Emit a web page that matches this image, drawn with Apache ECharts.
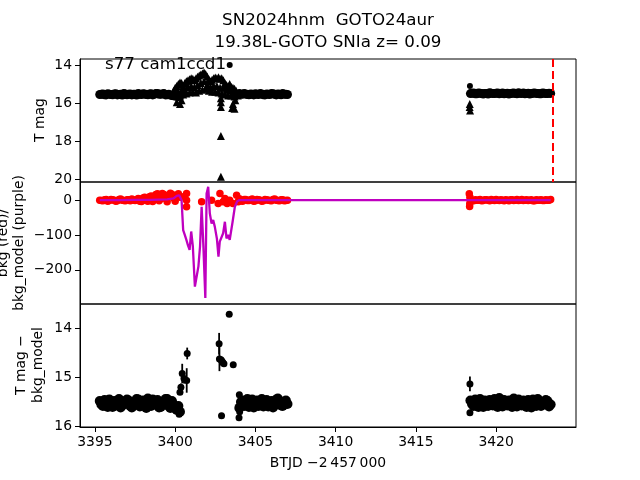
<!DOCTYPE html>
<html><head><meta charset="utf-8">
<script src="https://cdn.jsdelivr.net/npm/echarts@6/dist/echarts.min.js"></script>
<style>html,body{margin:0;padding:0;background:#fff}#c{width:640px;height:480px}</style>
</head><body><div id="c"></div>
<script>
// ---- data ----
const xTicks = [3395, 3400, 3405, 3410, 3415, 3420];
const magTicks = [14, 16, 18, 20];
const bkgTicks = [0, -100, -200];
const corrTicks = [14, 15, 16];
const vline = 3423.52;

const tA = [3395.3,3395.5,3395.7,3395.9,3396.1,3396.3,3396.5,3396.7,3396.9,3397.1,3397.3,3397.5,3397.7,3397.9,3398.1,3398.3,3398.5,3398.7,3398.9,3399.1,3399.3,3399.5,3399.7,3399.9,3400.1,3400.3];
const tA2 = [3395.4,3395.6,3395.8,3396.0,3396.2,3396.4,3396.6,3396.8,3397.0,3397.2,3397.4,3397.6,3397.8,3398.0,3398.2,3398.4,3398.6,3398.8,3399.0,3399.2,3399.4,3399.6,3399.8,3400.0,3400.2];
const tC = [3404.0,3404.2,3404.4,3404.6,3404.8,3405.0,3405.2,3405.4,3405.6,3405.8,3406.0,3406.2,3406.4,3406.6,3406.8,3407.0];
const tC2 = [3404.1,3404.3,3404.5,3404.7,3404.9,3405.1,3405.3,3405.5,3405.7,3405.9,3406.1,3406.3,3406.5,3406.7,3406.9];
const tD = [3418.4,3418.6,3418.8,3419.0,3419.2,3419.4,3419.6,3419.8,3420.0,3420.2,3420.4,3420.6,3420.8,3421.0,3421.2,3421.4,3421.6,3421.8,3422.0,3422.2,3422.4,3422.6,3422.8,3423.0,3423.2,3423.4];
const tD2 = [3418.5,3418.7,3418.9,3419.1,3419.3,3419.5,3419.7,3419.9,3420.1,3420.3,3420.5,3420.7,3420.9,3421.1,3421.3,3421.5,3421.7,3421.9,3422.1,3422.3,3422.5,3422.7,3422.9,3423.1,3423.3];

// top panel: T mag
const mA = [15.55,15.52,15.57,15.53,15.56,15.51,15.55,15.58,15.52,15.54,15.57,15.53,15.50,15.55,15.52,15.56,15.51,15.54,15.49,15.53,15.50,15.56,15.58,15.62,15.65,15.60];
const mA2 = [15.53,15.56,15.51,15.55,15.52,15.57,15.53,15.50,15.56,15.52,15.54,15.58,15.53,15.51,15.55,15.52,15.57,15.50,15.54,15.52,15.57,15.54,15.60,15.63,15.66];
const mC = [15.50,15.54,15.52,15.56,15.53,15.51,15.55,15.52,15.57,15.53,15.50,15.54,15.52,15.56,15.53,15.55];
const mC2 = [15.53,15.50,15.55,15.52,15.57,15.54,15.50,15.56,15.52,15.55,15.51,15.57,15.53,15.50,15.54];
const mD = [15.50,15.47,15.51,15.48,15.52,15.49,15.46,15.50,15.48,15.51,15.47,15.49,15.52,15.48,15.50,15.46,15.49,15.51,15.48,15.50,15.47,15.49,15.51,15.48,15.50,15.49];
const mD2 = [15.48,15.51,15.47,15.50,15.49,15.52,15.48,15.50,15.47,15.49,15.51,15.48,15.50,15.47,15.51,15.49,15.47,15.50,15.52,15.48,15.49,15.51,15.47,15.50,15.48];
const dotT = [3403.4, 3418.37];
const dotM = [14.0, 15.1];
const triT = [3399.9,3400.0,3400.1,3400.2,3400.3,3400.4,3400.5,3400.6,3400.7,3400.8,3400.9,3401.0,3401.1,3401.2,3401.3,3401.4,3401.5,3401.6,3401.7,3401.8,3401.9,3402.0,3402.1,3402.2,3402.3,3402.4,3402.5,3402.6,3402.7,3402.8,3402.9,3403.0,3403.1,3403.2,3403.3,3403.4,3403.5,3403.6,3403.7,3403.8,
  3400.0,3400.2,3400.4,3400.6,3400.8,3401.0,3401.2,3401.4,3401.6,3401.8,3402.0,3402.2,3402.4,3402.6,3402.8,3403.0,3403.2,3403.4,3403.6,3403.8,
  3400.1,3400.3,3400.5,3400.7,3400.9,3401.1,3401.3,3401.5,3401.7,3401.9,3402.1,3402.3,3402.5,3402.7,3402.9,3403.1,3403.3,3403.5,3403.7,3403.9,
  3400.1,3400.3,3400.4,3402.85,3402.85,3402.85,3402.85,3402.85,3403.55,3403.7,3403.6,3403.75,3418.35,3418.38,3418.36];
const triM = [15.35,15.20,15.10,15.00,14.92,14.95,15.10,14.95,14.85,14.80,14.75,14.70,14.72,14.80,14.70,14.62,14.55,14.50,14.45,14.40,14.48,14.60,14.75,14.85,14.78,14.70,14.66,14.70,14.65,14.72,14.70,14.80,14.95,15.05,15.10,15.00,15.15,15.20,15.25,15.35,
  15.45,15.40,15.35,15.30,15.15,15.10,15.15,15.05,14.95,14.85,15.05,15.15,15.10,15.10,15.20,15.20,15.30,15.35,15.45,15.50,
  15.55,15.60,15.55,15.50,15.45,15.40,15.45,15.35,15.30,15.25,15.35,15.40,15.40,15.45,15.50,15.55,15.60,15.60,15.65,15.60,
  15.95,16.05,15.85,15.75,15.95,16.20,17.72,19.85,16.25,16.30,16.05,15.85,16.20,16.38,16.05];

// middle panel: bkg (red) and bkg_model (purple)
const rA = [0,-2,2,-1,1,-3,2,0,-2,1,3,-1,5,-4,8,-3,12,2,18,4,16,-5,20,6,14,8];
const rA2 = [-1,1,-3,2,0,-2,3,-1,1,-2,0,2,-3,6,-1,10,-4,16,-2,19,5,12,17,-3,18];
const rC = [4,-3,2,-1,3,-2,1,-3,2,0,-2,3,-1,1,-2,0];
const rC2 = [-2,2,-1,1,-3,2,0,-2,1,-1,2,0,-2,1,-1];
const rD = [1,-2,0,2,-1,1,-2,0,2,-1,0,1,-2,1,0,-1,2,0,-1,1,-2,0,1,-1,0,2];
const rD2 = [-1,1,0,-2,1,0,2,-1,0,1,-2,0,1,-1,2,0,-1,1,0,-2,1,0,-1,1,0];
const rHt = [3400.5,3400.71,3400.71,3400.71,3401.65,3402.27,3402.79,3402.68,3402.99,3403.1,3403.24,3403.4,3403.6,3403.83,3403.93,3418.33,3418.35,3418.37,3418.36];
const rHv = [10,19,-19,0,-5,0,19,-10,-5,5,-10,0,-10,14,-5,18,-18,8,-10];
const modelT = [3395.3,3396.5,3397.5,3398.5,3399.5,3399.9,3400.1,3400.25,3400.4,3400.5,3400.6,3400.7,3400.8,3400.9,3401.0,3401.1,3401.23,3401.34,3401.45,3401.55,3401.65,3401.76,3401.88,3401.96,3402.06,3402.16,3402.27,3402.37,3402.47,3402.6,3402.7,3402.78,3402.88,3402.99,3403.1,3403.2,3403.3,3403.4,3403.58,3403.72,3403.87,3404.0,3405.0,3406.0,3407.0,3418.4,3419.0,3420.0,3421.0,3422.0,3423.4];
const modelV = [0,0,1,1,2,5,12,14,0,-86,-100,-114,-130,-143,-90,-131,-248,-252,-190,-133,-19,-133,-281,19,38,-38,-67,-57,-76,-110,-162,-119,-114,-95,-62,-110,-100,-114,-62,-19,-3,0,0,0,0,0,0,0,0,0,0];

// bottom panel: T mag - bkg_model
const cA = [15.48,15.58,15.50,15.45,15.60,15.53,15.44,15.57,15.51,15.47,15.61,15.52,15.45,15.56,15.50,15.43,15.58,15.53,15.46,15.60,15.50,15.44,15.62,15.55,15.66,15.70];
const cA2 = [15.55,15.46,15.60,15.52,15.48,15.57,15.61,15.49,15.45,15.58,15.50,15.44,15.59,15.47,15.62,15.54,15.45,15.49,15.61,15.52,15.44,15.58,15.48,15.63,15.58];
const cC = [15.62,15.47,15.55,15.60,15.45,15.52,15.58,15.44,15.53,15.59,15.48,15.56,15.43,15.57,15.50,15.54];
const cC2 = [15.50,15.58,15.44,15.53,15.61,15.47,15.50,15.59,15.46,15.54,15.61,15.45,15.52,15.58,15.47];
const cD = [15.47,15.58,15.52,15.44,15.60,15.51,15.46,15.57,15.53,15.42,15.59,15.50,15.47,15.60,15.52,15.45,15.57,15.51,15.46,15.61,15.50,15.44,15.58,15.53,15.48,15.55];
const cD2 = [15.54,15.45,15.60,15.50,15.47,15.58,15.53,15.44,15.60,15.51,15.46,15.57,15.54,15.43,15.59,15.50,15.47,15.60,15.52,15.45,15.58,15.49,15.55,15.46,15.59];
const oT = [3403.37,3402.74,3402.76,3402.86,3402.92,3402.98,3403.04,3403.62,3402.89,3400.75,3400.44,3400.55,3400.72,3400.36,3400.30,3400.25,3418.37,3418.37,3403.98,3404.02,3404.0];
const oM = [13.71,14.31,14.62,14.64,14.67,14.70,14.72,14.74,15.78,14.51,14.92,15.02,15.06,15.20,15.30,15.75,15.13,15.72,15.82,15.70,15.35];
const oE = [0.03,0.22,0.25,0.05,0.05,0.04,0.04,0.04,0.03,0.12,0.20,0.10,0.25,0.08,0.05,0.03,0.15,0.05,0.05,0.03,0.03];

// ---- build ----
const zip = (a, b) => a.map((v, i) => [v, b[i]]);
const zip3 = (a, b, c) => a.map((v, i) => [v, b[i], c[i]]);
const FONT = 'DejaVu Sans';
const XMIN = 3394.07, XMAX = 3424.98;
const minus = v => String(v).replace('-', '\u2212');

const grids = [
  {left: 80, right: 64, top: 59, height: 123},
  {left: 80, right: 64, top: 182, height: 122},
  {left: 80, right: 64, top: 304, height: 123}
].map(g => Object.assign(g, {show: true, borderColor: '#000', borderWidth: 1, containLabel: false}));

const xAxes = [0, 1, 2].map(i => ({
  type: 'value', gridIndex: i, min: XMIN, max: XMAX,
  axisLine: {show: i === 2, lineStyle: {color: '#000', width: 1}},
  axisTick: {show: i === 2, length: 5, lineStyle: {color: '#000'}, customValues: xTicks},
  axisLabel: {show: i === 2, customValues: xTicks, color: '#000', fontFamily: FONT, fontSize: 13.9, margin: 8, formatter: v => String(v)},
  splitLine: {show: false}
}));

function yAx(i, min, max, ticks, inverse) {
  return {
    type: 'value', gridIndex: i, min: min, max: max, inverse: inverse,
    axisLine: {show: true, lineStyle: {color: '#000', width: 1}},
    axisTick: {show: true, length: 5, lineStyle: {color: '#000'}, customValues: ticks},
    axisLabel: {customValues: ticks, color: '#000', fontFamily: FONT, fontSize: 13.9, margin: 8, formatter: minus},
    splitLine: {show: false}
  };
}
const yAxes = [
  yAx(0, 13.69, 20.13, magTicks, true),
  yAx(1, -298, 52, bkgTicks, false),
  yAx(2, 13.5, 16.01, corrTicks, true)
];

const blackDot = {color: '#000', opacity: 1, borderWidth: 0};
const series = [
  {type: 'scatter', xAxisIndex: 0, yAxisIndex: 0, symbol: 'circle', symbolSize: 9, itemStyle: blackDot,
   data: zip(tA, mA).concat(zip(tA2, mA2), zip(tC, mC), zip(tC2, mC2), zip(tD, mD), zip(tD2, mD2)),
   markLine: {silent: true, symbol: 'none', label: {show: false},
     lineStyle: {color: '#ff0000', type: [8, 4], width: 2, opacity: 1}, data: [{xAxis: vline}]}},
  {type: 'scatter', xAxisIndex: 0, yAxisIndex: 0, symbol: 'triangle', symbolSize: 8, itemStyle: blackDot,
   data: zip(triT, triM)},
  {type: 'scatter', xAxisIndex: 0, yAxisIndex: 0, symbol: 'circle', symbolSize: 6, itemStyle: blackDot,
   data: zip(dotT, dotM)},
  {type: 'scatter', xAxisIndex: 1, yAxisIndex: 1, symbol: 'circle', symbolSize: 7.5, itemStyle: {color: '#ff0000', opacity: 1, borderWidth: 0},
   data: zip(tA, rA).concat(zip(tA2, rA2), zip(tC, rC), zip(tC2, rC2), zip(tD, rD), zip(tD2, rD2), zip(rHt, rHv)), z: 2},
  {type: 'line', xAxisIndex: 1, yAxisIndex: 1, showSymbol: false, symbol: 'none',
   lineStyle: {color: '#bf00bf', width: 2.3, opacity: 1}, data: zip(modelT, modelV), z: 3},
  {type: 'scatter', xAxisIndex: 2, yAxisIndex: 2, symbol: 'circle', symbolSize: 10, itemStyle: blackDot,
   data: zip(tA, cA).concat(zip(tA2, cA2), zip(tC, cC), zip(tC2, cC2), zip(tD, cD), zip(tD2, cD2))},
  {type: 'custom', xAxisIndex: 2, yAxisIndex: 2, data: zip3(oT, oM, oE),
   renderItem: function (params, api) {
     const x = api.value(0), y = api.value(1), e = api.value(2);
     const p1 = api.coord([x, y - e]), p2 = api.coord([x, y + e]), pc = api.coord([x, y]);
     return {type: 'group', children: [
       {type: 'line', shape: {x1: p1[0], y1: p1[1], x2: p2[0], y2: p2[1]}, style: {stroke: '#000', lineWidth: 1.8}},
       {type: 'circle', shape: {cx: pc[0], cy: pc[1], r: 3.5}, style: {fill: '#000'}}
     ]};
   }}
];

const txt = (o) => Object.assign({type: 'text', silent: true}, o);
const graphic = [
  txt({x: 328, y: 21, style: {text: 'SN2024hnm  GOTO24aur', font: '16.7px "DejaVu Sans"', fill: '#000', textAlign: 'center', textVerticalAlign: 'middle'}}),
  txt({x: 328, y: 43, style: {text: '19.38L-GOTO SNIa z= 0.09', font: '16.7px "DejaVu Sans"', fill: '#000', textAlign: 'center', textVerticalAlign: 'middle'}}),
  txt({x: 105, y: 65, style: {text: 's77 cam1ccd1', font: '16.7px "DejaVu Sans"', fill: '#000', textAlign: 'left', textVerticalAlign: 'middle'}}),
  txt({x: 40, y: 120, rotation: Math.PI / 2, style: {text: 'T mag', font: '13.9px "DejaVu Sans"', fill: '#000', textAlign: 'center', textVerticalAlign: 'middle'}}),
  txt({x: 11, y: 243, rotation: Math.PI / 2, style: {text: 'bkg (red)/\nbkg_model (purple)', font: '13.9px "DejaVu Sans"', lineHeight: 16, fill: '#000', textAlign: 'center', textVerticalAlign: 'middle'}}),
  txt({x: 30, y: 365, rotation: Math.PI / 2, style: {text: 'T mag \u2212\nbkg_model', font: '13.9px "DejaVu Sans"', lineHeight: 17, fill: '#000', textAlign: 'center', textVerticalAlign: 'middle'}}),
  txt({x: 328, y: 463, style: {text: 'BTJD \u22122\u2009457\u2009000', font: '13.9px "DejaVu Sans"', fill: '#000', textAlign: 'center', textVerticalAlign: 'middle'}})
];

const chart = echarts.init(document.getElementById('c'), null, {renderer: 'canvas'});
chart.setOption({animation: false, backgroundColor: '#fff', grid: grids, xAxis: xAxes, yAxis: yAxes, series: series, graphic: graphic});
</script></body></html>
